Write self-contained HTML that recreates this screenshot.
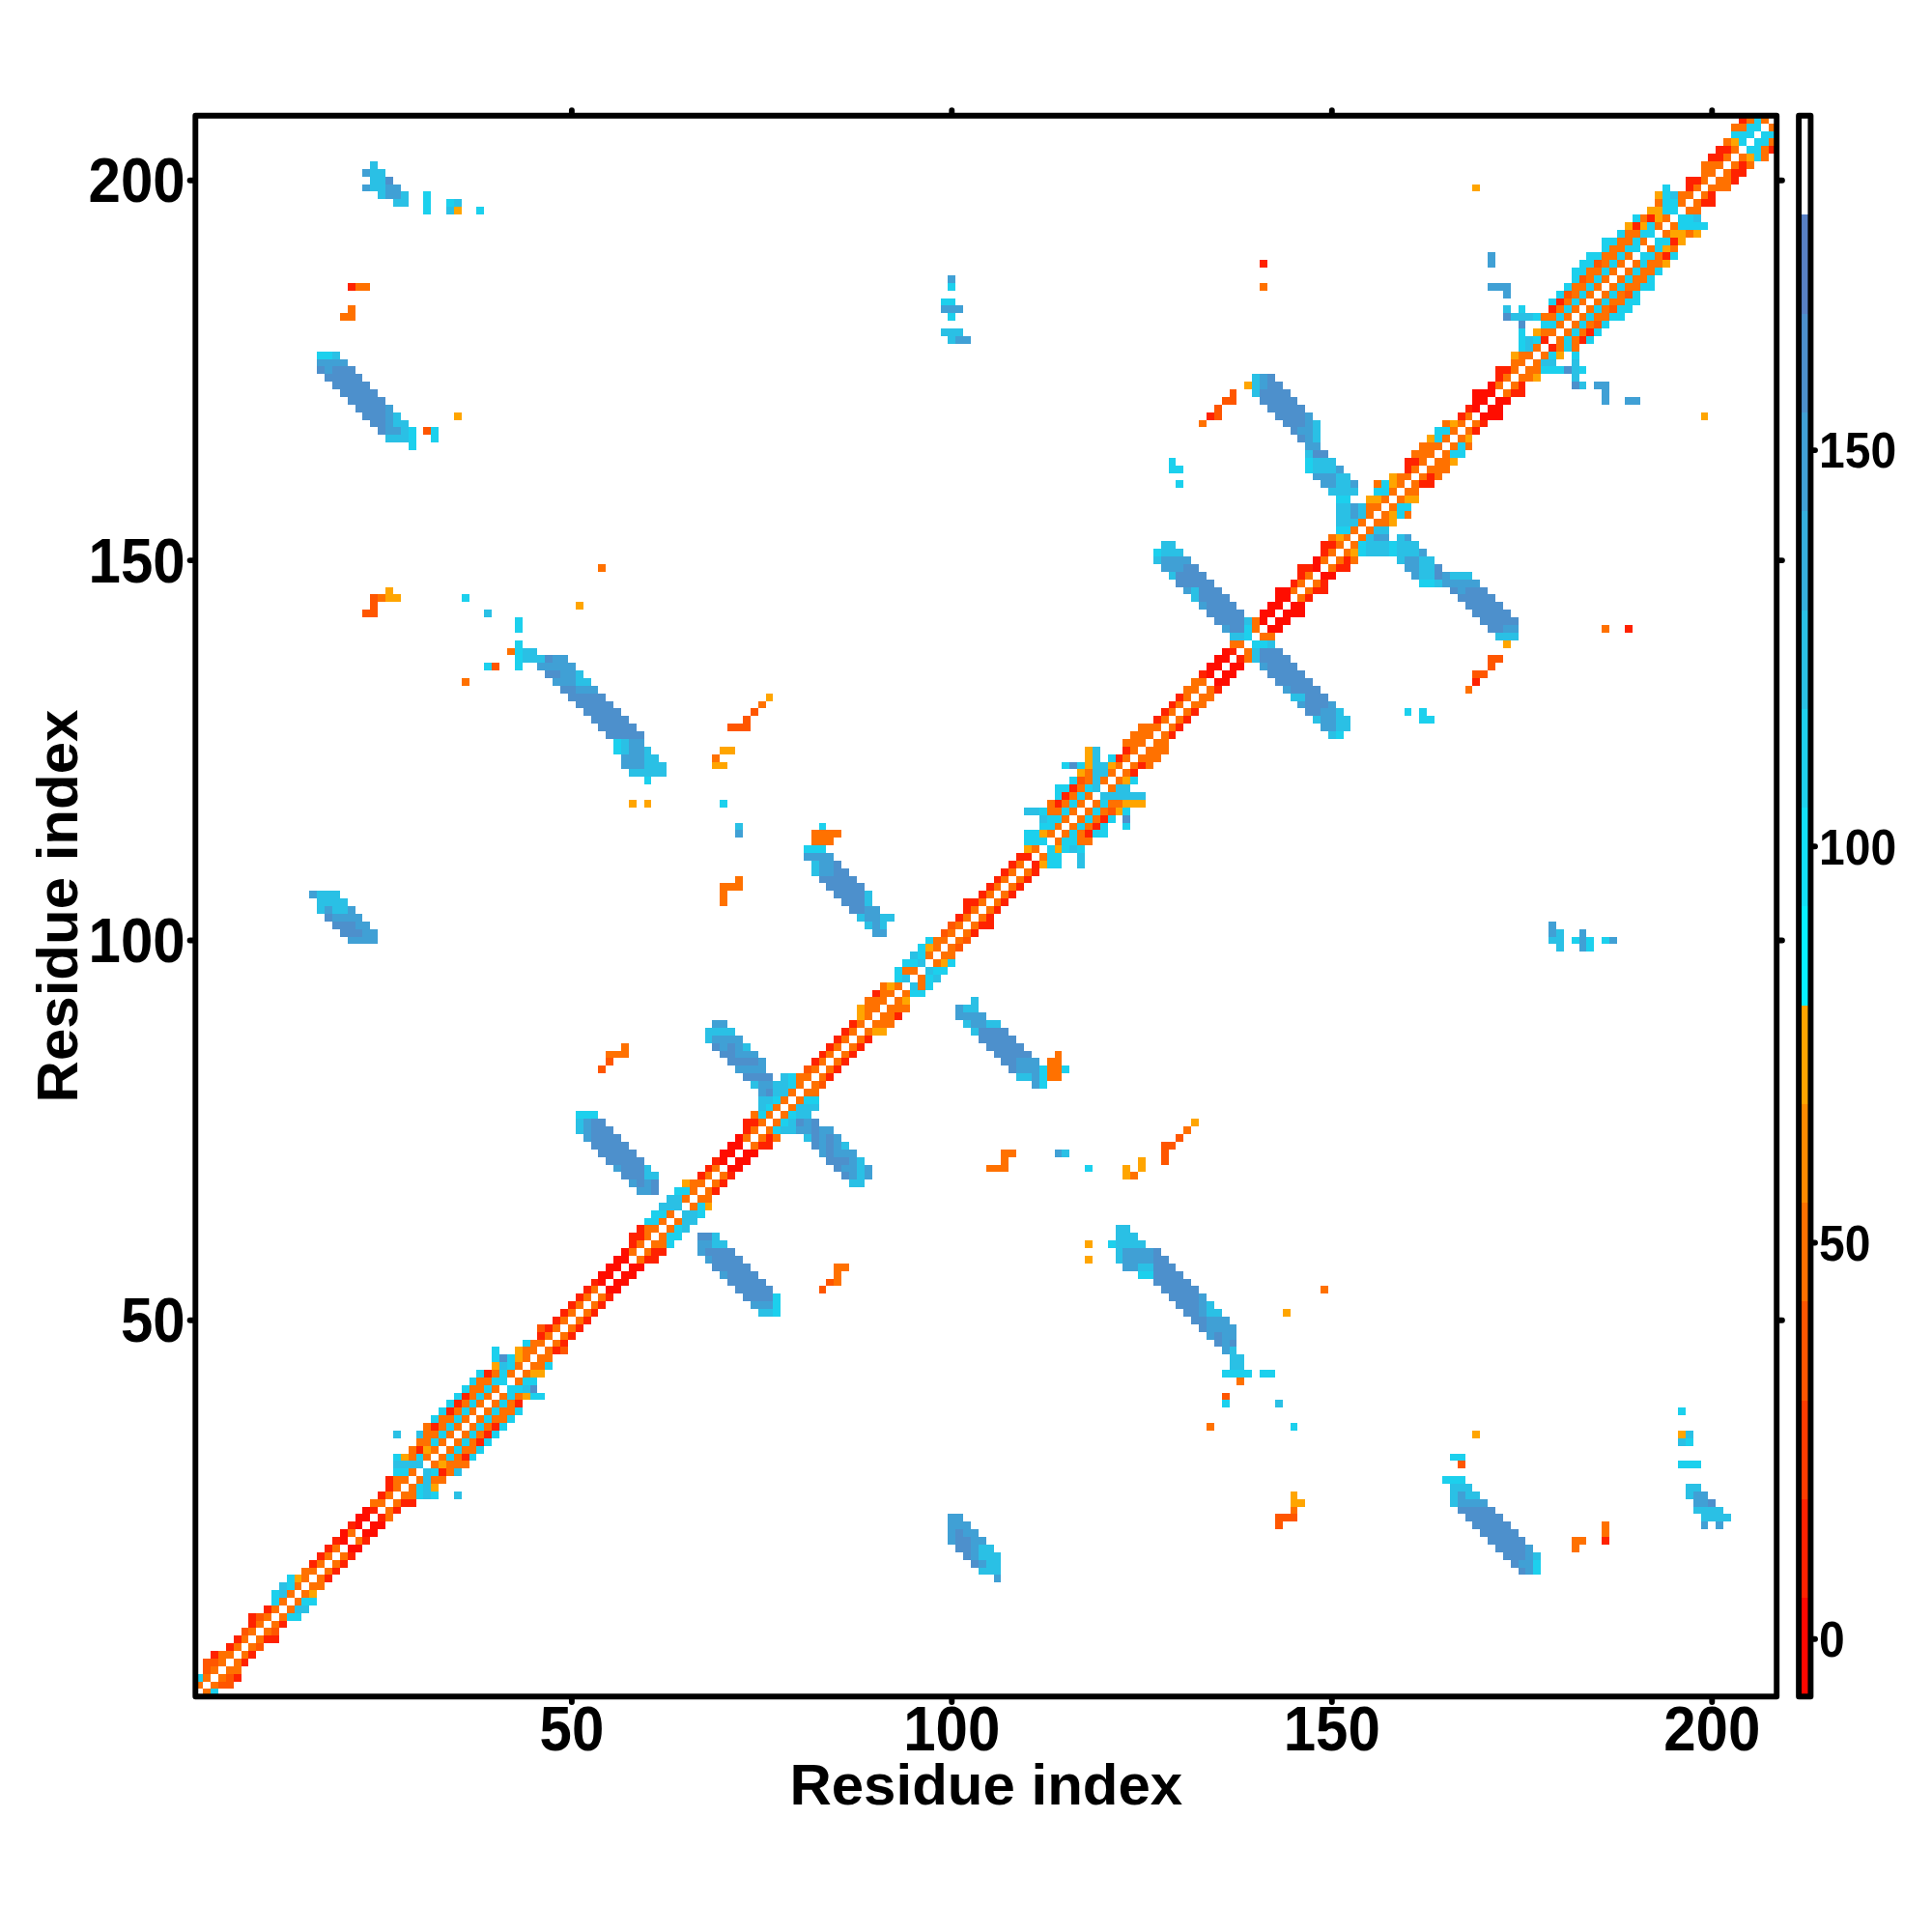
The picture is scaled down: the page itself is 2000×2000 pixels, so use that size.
<!DOCTYPE html>
<html lang="en">
<head>
<meta charset="utf-8">
<title>Residue index contact map</title>
<style>
html,body{margin:0;padding:0;background:#fff}
body{width:2000px;height:2000px;overflow:hidden}
svg{display:block}
text{font-family:"Liberation Sans", sans-serif;font-weight:bold;fill:#000}
.ax{font-size:60px}
.key{font-size:48px}
.ln{stroke:#000;stroke-width:5.9;stroke-linecap:round;stroke-linejoin:round;fill:none}
</style>
</head>
<body>
<svg width="2000" height="2000" viewBox="0 0 2000 2000">
<rect x="0" y="0" width="2000" height="2000" fill="#fff"/>
<defs><filter id="soft" x="0" y="0" width="2000" height="2000" filterUnits="userSpaceOnUse"><feGaussianBlur stdDeviation="0.45"/></filter></defs>
<g filter="url(#soft)">
<g transform="translate(202.30,1756.30) scale(7.86971,-7.86779)" shape-rendering="crispEdges">
<path fill="#FF0800" d="M20 19h2v1h-2zM19 20h1v1h-1zM19 21h1v1h-1zM22 21h2v1h-2zM21 22h1v1h-1zM23 22h2v1h-2zM21 23h2v1h-2zM22 24h1v1h-1zM54 53h2v1h-2zM53 54h1v1h-1zM55 54h2v1h-2zM53 55h2v1h-2zM56 55h2v1h-2zM54 56h2v1h-2zM57 56h2v1h-2zM55 57h2v1h-2zM56 58h1v1h-1zM70 69h2v1h-2zM69 70h1v1h-1zM71 70h2v1h-2zM69 71h2v1h-2zM72 71h2v1h-2zM70 72h2v1h-2zM71 73h1v1h-1zM134 133h2v1h-2zM133 134h1v1h-1zM135 134h2v1h-2zM133 135h2v1h-2zM136 135h2v1h-2zM134 136h2v1h-2zM135 137h1v1h-1zM141 140h2v1h-2zM140 141h1v1h-1zM142 141h2v1h-2zM140 142h2v1h-2zM143 142h3v1h-3zM141 143h2v1h-2zM144 143h2v1h-2zM142 144h2v1h-2zM142 145h2v1h-2zM148 147h2v1h-2zM147 148h1v1h-1zM147 149h1v1h-1zM169 168h3v1h-3zM168 169h1v1h-1zM170 169h2v1h-2zM168 170h2v1h-2zM171 170h2v1h-2zM168 171h3v1h-3zM170 172h1v1h-1z"/>
<path fill="#FF2200" d="M5 2h1v1h-1zM6 4h1v1h-1zM2 5h1v1h-1zM7 5h1v1h-1zM4 6h1v1h-1zM5 7h1v1h-1zM9 7h2v1h-2zM7 9h1v1h-1zM11 9h1v1h-1zM7 10h1v1h-1zM9 11h1v1h-1zM17 15h1v1h-1zM18 16h1v1h-1zM15 17h1v1h-1zM19 17h1v1h-1zM16 18h1v1h-1zM20 18h1v1h-1zM17 19h1v1h-1zM18 20h1v1h-1zM22 20h1v1h-1zM185 20h1v1h-1zM20 22h1v1h-1zM24 23h1v1h-1zM23 24h1v1h-1zM26 24h1v1h-1zM27 25h2v1h-2zM24 26h1v1h-1zM25 27h1v1h-1zM25 28h1v1h-1zM32 29h1v1h-1zM35 31h1v1h-1zM29 32h1v1h-1zM37 33h1v1h-1zM38 34h1v1h-1zM31 35h1v1h-1zM39 35h1v1h-1zM33 37h1v1h-1zM34 38h1v1h-1zM42 38h1v1h-1zM35 39h1v1h-1zM38 42h1v1h-1zM47 45h1v1h-1zM48 46h1v1h-1zM45 47h1v1h-1zM49 47h1v1h-1zM46 48h1v1h-1zM50 48h1v1h-1zM47 49h1v1h-1zM51 49h1v1h-1zM48 50h1v1h-1zM52 50h1v1h-1zM49 51h1v1h-1zM53 51h1v1h-1zM50 52h1v1h-1zM54 52h1v1h-1zM51 53h1v1h-1zM52 54h1v1h-1zM59 57h2v1h-2zM60 58h2v1h-2zM57 59h1v1h-1zM57 60h2v1h-2zM58 61h1v1h-1zM68 66h1v1h-1zM69 67h1v1h-1zM66 68h1v1h-1zM70 68h1v1h-1zM67 69h1v1h-1zM68 70h1v1h-1zM74 72h2v1h-2zM75 73h1v1h-1zM72 74h1v1h-1zM72 75h2v1h-2zM83 81h1v1h-1zM84 82h1v1h-1zM81 83h1v1h-1zM85 83h1v1h-1zM82 84h1v1h-1zM86 84h1v1h-1zM83 85h1v1h-1zM87 85h1v1h-1zM84 86h1v1h-1zM88 86h1v1h-1zM85 87h1v1h-1zM86 88h1v1h-1zM92 89h1v1h-1zM89 92h1v1h-1zM102 100h1v1h-1zM103 101h2v1h-2zM100 102h1v1h-1zM104 102h1v1h-1zM101 103h1v1h-1zM105 103h1v1h-1zM101 104h2v1h-2zM106 104h1v1h-1zM103 105h1v1h-1zM107 105h1v1h-1zM104 106h1v1h-1zM108 106h1v1h-1zM105 107h1v1h-1zM109 107h1v1h-1zM106 108h1v1h-1zM110 108h1v1h-1zM107 109h1v1h-1zM110 109h1v1h-1zM108 110h2v1h-2zM117 113h1v1h-1zM118 114h1v1h-1zM119 115h1v1h-1zM113 117h1v1h-1zM114 118h1v1h-1zM115 119h1v1h-1zM123 121h1v1h-1zM124 122h1v1h-1zM121 123h1v1h-1zM122 124h1v1h-1zM128 126h1v1h-1zM129 127h1v1h-1zM126 128h1v1h-1zM130 128h1v1h-1zM127 129h1v1h-1zM131 129h1v1h-1zM128 130h1v1h-1zM129 131h1v1h-1zM134 132h1v1h-1zM168 133h1v1h-1zM132 134h1v1h-1zM137 136h1v1h-1zM136 137h1v1h-1zM188 140h1v1h-1zM146 144h1v1h-1zM147 145h2v1h-2zM144 146h1v1h-1zM148 146h1v1h-1zM145 147h1v1h-1zM145 148h2v1h-2zM150 148h2v1h-2zM151 149h1v1h-1zM148 150h1v1h-1zM148 151h2v1h-2zM161 159h2v1h-2zM162 160h1v1h-1zM159 161h1v1h-1zM159 162h2v1h-2zM168 166h1v1h-1zM169 167h1v1h-1zM133 168h1v1h-1zM166 168h1v1h-1zM167 169h1v1h-1zM173 171h2v1h-2zM174 172h1v1h-1zM171 173h1v1h-1zM171 174h2v1h-2zM178 177h1v1h-1zM177 178h1v1h-1zM182 178h1v1h-1zM183 179h1v1h-1zM178 182h1v1h-1zM179 183h1v1h-1zM20 185h1v1h-1zM140 188h1v1h-1zM193 189h1v1h-1zM194 191h1v1h-1zM189 193h1v1h-1zM191 194h1v1h-1zM198 196h2v1h-2zM199 197h1v1h-1zM196 198h1v1h-1zM196 199h2v1h-2zM202 199h1v1h-1zM202 200h2v1h-2zM203 201h1v1h-1zM199 202h2v1h-2zM200 203h2v1h-2zM207 203h1v1h-1zM203 207h1v1h-1z"/>
<path fill="#FF5600" d="M3 1h2v1h-2zM4 2h1v1h-1zM1 3h1v1h-1zM1 4h2v1h-2zM8 6h1v1h-1zM6 8h1v1h-1zM10 8h1v1h-1zM8 10h1v1h-1zM142 22h1v1h-1zM142 23h3v1h-3zM166 30h1v1h-1zM135 39h1v1h-1zM48 45h1v1h-1zM45 48h1v1h-1zM82 53h1v1h-1zM83 54h1v1h-1zM127 70h1v1h-1zM127 71h1v1h-1zM127 72h2v1h-2zM129 73h1v1h-1zM82 80h1v1h-1zM53 82h1v1h-1zM80 82h1v1h-1zM54 83h1v1h-1zM100 98h1v1h-1zM101 99h1v1h-1zM98 100h1v1h-1zM99 101h1v1h-1zM120 116h1v1h-1zM116 120h1v1h-1zM70 127h3v1h-3zM72 128h1v1h-1zM73 129h1v1h-1zM168 134h2v1h-2zM39 135h1v1h-1zM170 135h1v1h-1zM170 136h2v1h-2zM22 142h2v1h-2zM23 143h1v1h-1zM23 144h1v1h-1zM30 166h1v1h-1zM134 168h1v1h-1zM134 169h1v1h-1zM135 170h2v1h-2zM136 171h1v1h-1zM184 180h1v1h-1zM186 182h1v1h-1zM180 184h1v1h-1zM188 184h1v1h-1zM182 186h1v1h-1zM184 188h1v1h-1z"/>
<path fill="#FF7100" d="M1 0h1v1h-1zM0 1h1v1h-1zM2 1h1v1h-1zM1 2h1v1h-1zM3 2h1v1h-1zM2 3h1v1h-1zM4 3h2v1h-2zM3 4h1v1h-1zM5 4h1v1h-1zM3 5h2v1h-2zM6 5h1v1h-1zM5 6h1v1h-1zM7 6h1v1h-1zM6 7h1v1h-1zM8 7h1v1h-1zM7 8h1v1h-1zM9 8h1v1h-1zM8 9h1v1h-1zM10 9h1v1h-1zM9 10h1v1h-1zM11 10h1v1h-1zM10 11h1v1h-1zM12 11h1v1h-1zM11 12h1v1h-1zM13 12h1v1h-1zM12 13h1v1h-1zM14 13h1v1h-1zM13 14h1v1h-1zM15 14h2v1h-2zM14 15h1v1h-1zM16 15h1v1h-1zM14 16h2v1h-2zM17 16h1v1h-1zM16 17h1v1h-1zM18 17h1v1h-1zM17 18h1v1h-1zM19 18h1v1h-1zM18 19h1v1h-1zM181 19h1v1h-1zM21 20h1v1h-1zM181 20h2v1h-2zM20 21h1v1h-1zM185 21h1v1h-1zM185 22h1v1h-1zM25 23h1v1h-1zM25 24h1v1h-1zM144 24h1v1h-1zM23 25h2v1h-2zM26 25h1v1h-1zM25 26h1v1h-1zM27 26h2v1h-2zM26 27h1v1h-1zM28 27h1v1h-1zM26 28h2v1h-2zM29 28h1v1h-1zM31 28h2v1h-2zM28 29h1v1h-1zM33 29h1v1h-1zM31 30h1v1h-1zM33 30h3v1h-3zM28 31h1v1h-1zM30 31h1v1h-1zM32 31h1v1h-1zM34 31h1v1h-1zM28 32h1v1h-1zM31 32h1v1h-1zM33 32h1v1h-1zM35 32h2v1h-2zM29 33h2v1h-2zM32 33h1v1h-1zM34 33h1v1h-1zM36 33h1v1h-1zM30 34h2v1h-2zM33 34h1v1h-1zM35 34h1v1h-1zM37 34h1v1h-1zM30 35h1v1h-1zM32 35h1v1h-1zM34 35h1v1h-1zM36 35h1v1h-1zM38 35h1v1h-1zM133 35h1v1h-1zM32 36h2v1h-2zM35 36h1v1h-1zM37 36h1v1h-1zM39 36h2v1h-2zM34 37h1v1h-1zM36 37h1v1h-1zM38 37h1v1h-1zM40 37h2v1h-2zM35 38h1v1h-1zM37 38h1v1h-1zM39 38h1v1h-1zM41 38h1v1h-1zM36 39h1v1h-1zM38 39h1v1h-1zM40 39h1v1h-1zM42 39h1v1h-1zM36 40h2v1h-2zM39 40h1v1h-1zM37 41h2v1h-2zM42 41h1v1h-1zM137 41h1v1h-1zM39 42h1v1h-1zM41 42h1v1h-1zM43 42h1v1h-1zM42 43h1v1h-1zM44 43h2v1h-2zM43 44h1v1h-1zM45 44h2v1h-2zM43 45h2v1h-2zM46 45h1v1h-1zM44 46h2v1h-2zM47 46h1v1h-1zM46 47h1v1h-1zM48 47h1v1h-1zM47 48h1v1h-1zM49 48h1v1h-1zM48 49h1v1h-1zM50 49h1v1h-1zM49 50h1v1h-1zM51 50h1v1h-1zM50 51h1v1h-1zM52 51h1v1h-1zM51 52h1v1h-1zM53 52h1v1h-1zM52 53h1v1h-1zM148 53h1v1h-1zM84 54h1v1h-1zM84 55h1v1h-1zM84 56h2v1h-2zM58 57h1v1h-1zM57 58h1v1h-1zM59 58h1v1h-1zM58 59h1v1h-1zM60 59h2v1h-2zM59 60h1v1h-1zM61 60h1v1h-1zM59 61h2v1h-2zM62 61h1v1h-1zM61 62h1v1h-1zM63 62h1v1h-1zM62 63h1v1h-1zM65 64h1v1h-1zM64 65h1v1h-1zM66 65h2v1h-2zM65 66h1v1h-1zM67 66h1v1h-1zM65 67h2v1h-2zM68 67h1v1h-1zM67 68h1v1h-1zM69 68h1v1h-1zM123 68h1v1h-1zM68 69h1v1h-1zM104 69h3v1h-3zM106 70h1v1h-1zM106 71h2v1h-2zM73 72h1v1h-1zM72 73h1v1h-1zM74 73h1v1h-1zM76 73h1v1h-1zM73 74h1v1h-1zM75 74h1v1h-1zM130 74h1v1h-1zM74 75h1v1h-1zM76 75h1v1h-1zM73 76h1v1h-1zM75 76h1v1h-1zM77 76h1v1h-1zM76 77h1v1h-1zM78 77h1v1h-1zM77 78h1v1h-1zM79 78h1v1h-1zM78 79h1v1h-1zM80 79h2v1h-2zM79 80h1v1h-1zM81 80h1v1h-1zM79 81h2v1h-2zM82 81h1v1h-1zM112 81h2v1h-2zM81 82h1v1h-1zM83 82h1v1h-1zM112 82h2v1h-2zM82 83h1v1h-1zM84 83h1v1h-1zM112 83h2v1h-2zM54 84h3v1h-3zM83 84h1v1h-1zM85 84h1v1h-1zM113 84h1v1h-1zM56 85h1v1h-1zM84 85h1v1h-1zM86 85h1v1h-1zM85 86h1v1h-1zM87 86h1v1h-1zM86 87h1v1h-1zM88 87h1v1h-1zM87 88h1v1h-1zM89 88h3v1h-3zM88 89h1v1h-1zM90 89h2v1h-2zM88 90h2v1h-2zM91 90h3v1h-3zM88 91h3v1h-3zM92 91h1v1h-1zM90 92h2v1h-2zM93 92h1v1h-1zM90 93h1v1h-1zM92 93h1v1h-1zM95 93h1v1h-1zM95 94h1v1h-1zM93 95h2v1h-2zM97 96h1v1h-1zM96 97h1v1h-1zM98 97h2v1h-2zM97 98h1v1h-1zM99 98h1v1h-1zM97 99h2v1h-2zM100 99h1v1h-1zM99 100h1v1h-1zM101 100h1v1h-1zM100 101h1v1h-1zM102 101h1v1h-1zM101 102h1v1h-1zM103 102h1v1h-1zM102 103h1v1h-1zM104 103h1v1h-1zM69 104h1v1h-1zM103 104h1v1h-1zM105 104h1v1h-1zM69 105h1v1h-1zM104 105h1v1h-1zM106 105h1v1h-1zM69 106h3v1h-3zM105 106h1v1h-1zM107 106h1v1h-1zM71 107h1v1h-1zM106 107h1v1h-1zM108 107h1v1h-1zM107 108h1v1h-1zM109 108h1v1h-1zM108 109h1v1h-1zM111 110h1v1h-1zM110 111h1v1h-1zM81 112h3v1h-3zM113 112h1v1h-1zM116 112h2v1h-2zM81 113h4v1h-4zM112 113h1v1h-1zM114 113h1v1h-1zM116 113h1v1h-1zM113 114h1v1h-1zM115 114h1v1h-1zM117 114h1v1h-1zM114 115h1v1h-1zM116 115h1v1h-1zM118 115h1v1h-1zM112 116h2v1h-2zM115 116h1v1h-1zM117 116h1v1h-1zM119 116h1v1h-1zM112 117h1v1h-1zM114 117h1v1h-1zM116 117h1v1h-1zM118 117h1v1h-1zM120 117h2v1h-2zM115 118h1v1h-1zM117 118h1v1h-1zM116 119h1v1h-1zM120 119h1v1h-1zM117 120h1v1h-1zM119 120h1v1h-1zM121 120h1v1h-1zM117 121h1v1h-1zM120 121h1v1h-1zM122 121h1v1h-1zM121 122h1v1h-1zM123 122h1v1h-1zM125 122h1v1h-1zM68 123h1v1h-1zM122 123h1v1h-1zM124 123h3v1h-3zM123 124h1v1h-1zM125 124h3v1h-3zM122 125h3v1h-3zM126 125h2v1h-2zM123 126h3v1h-3zM127 126h1v1h-1zM124 127h3v1h-3zM128 127h1v1h-1zM127 128h1v1h-1zM129 128h1v1h-1zM128 129h1v1h-1zM130 129h1v1h-1zM74 130h1v1h-1zM129 130h1v1h-1zM131 130h2v1h-2zM130 131h1v1h-1zM132 131h2v1h-2zM130 132h2v1h-2zM133 132h1v1h-1zM167 132h1v1h-1zM35 133h1v1h-1zM131 133h2v1h-2zM138 136h1v1h-1zM41 137h1v1h-1zM138 137h1v1h-1zM136 138h2v1h-2zM140 139h2v1h-2zM139 140h1v1h-1zM185 140h1v1h-1zM139 141h1v1h-1zM24 144h1v1h-1zM145 144h1v1h-1zM144 145h1v1h-1zM146 145h1v1h-1zM145 146h1v1h-1zM147 146h1v1h-1zM146 147h1v1h-1zM53 148h1v1h-1zM149 148h1v1h-1zM148 149h1v1h-1zM150 149h1v1h-1zM152 149h1v1h-1zM149 150h1v1h-1zM151 150h1v1h-1zM150 151h1v1h-1zM152 151h1v1h-1zM149 152h1v1h-1zM151 152h1v1h-1zM153 152h1v1h-1zM152 153h1v1h-1zM154 153h1v1h-1zM153 154h1v1h-1zM155 154h2v1h-2zM154 155h1v1h-1zM156 155h1v1h-1zM159 155h1v1h-1zM154 156h2v1h-2zM157 156h1v1h-1zM156 157h1v1h-1zM158 157h1v1h-1zM157 158h1v1h-1zM159 158h2v1h-2zM155 159h1v1h-1zM158 159h1v1h-1zM160 159h1v1h-1zM158 160h2v1h-2zM161 160h1v1h-1zM163 160h1v1h-1zM160 161h1v1h-1zM162 161h3v1h-3zM161 162h1v1h-1zM163 162h2v1h-2zM160 163h3v1h-3zM164 163h1v1h-1zM161 164h3v1h-3zM165 164h1v1h-1zM167 164h1v1h-1zM164 165h1v1h-1zM166 165h1v1h-1zM165 166h1v1h-1zM167 166h1v1h-1zM132 167h1v1h-1zM164 167h1v1h-1zM166 167h1v1h-1zM168 167h1v1h-1zM167 168h1v1h-1zM172 171h1v1h-1zM171 172h1v1h-1zM173 172h1v1h-1zM172 173h1v1h-1zM174 173h2v1h-2zM173 174h1v1h-1zM175 174h2v1h-2zM173 175h2v1h-2zM176 175h1v1h-1zM174 176h2v1h-2zM177 176h1v1h-1zM176 177h1v1h-1zM179 177h1v1h-1zM181 177h1v1h-1zM179 178h1v1h-1zM181 178h1v1h-1zM177 179h2v1h-2zM180 179h1v1h-1zM182 179h1v1h-1zM179 180h1v1h-1zM181 180h1v1h-1zM183 180h1v1h-1zM19 181h2v1h-2zM177 181h2v1h-2zM180 181h1v1h-1zM182 181h1v1h-1zM184 181h2v1h-2zM20 182h1v1h-1zM179 182h1v1h-1zM181 182h1v1h-1zM183 182h1v1h-1zM185 182h1v1h-1zM180 183h1v1h-1zM182 183h1v1h-1zM184 183h1v1h-1zM186 183h2v1h-2zM181 184h1v1h-1zM183 184h1v1h-1zM185 184h1v1h-1zM187 184h1v1h-1zM21 185h2v1h-2zM140 185h1v1h-1zM181 185h2v1h-2zM184 185h1v1h-1zM186 185h1v1h-1zM188 185h2v1h-2zM183 186h1v1h-1zM185 186h1v1h-1zM187 186h1v1h-1zM189 186h2v1h-2zM183 187h2v1h-2zM186 187h1v1h-1zM188 187h1v1h-1zM190 187h2v1h-2zM185 188h1v1h-1zM187 188h1v1h-1zM189 188h1v1h-1zM191 188h2v1h-2zM185 189h2v1h-2zM188 189h1v1h-1zM192 189h1v1h-1zM186 190h2v1h-2zM191 190h1v1h-1zM194 190h1v1h-1zM187 191h2v1h-2zM190 191h1v1h-1zM188 192h2v1h-2zM193 192h1v1h-1zM196 192h1v1h-1zM192 193h1v1h-1zM194 193h1v1h-1zM190 194h1v1h-1zM193 194h1v1h-1zM196 195h2v1h-2zM192 196h1v1h-1zM195 196h1v1h-1zM197 196h1v1h-1zM195 197h2v1h-2zM198 197h1v1h-1zM197 198h1v1h-1zM199 198h3v1h-3zM198 199h1v1h-1zM200 199h2v1h-2zM198 200h2v1h-2zM201 200h1v1h-1zM198 201h3v1h-3zM202 201h1v1h-1zM204 201h1v1h-1zM201 202h1v1h-1zM203 202h1v1h-1zM206 202h1v1h-1zM202 203h1v1h-1zM206 203h1v1h-1zM201 204h1v1h-1zM207 204h1v1h-1zM202 206h2v1h-2zM207 206h1v1h-1zM204 207h1v1h-1zM206 207h1v1h-1z"/>
<path fill="#FFA500" d="M15 13h1v1h-1zM13 15h1v1h-1zM144 25h2v1h-2zM144 26h1v1h-1zM31 27h1v1h-1zM32 30h1v1h-1zM27 31h1v1h-1zM30 32h1v1h-1zM168 34h1v1h-1zM195 34h1v1h-1zM43 39h1v1h-1zM44 42h2v1h-2zM39 43h1v1h-1zM42 44h1v1h-1zM42 45h1v1h-1zM143 50h1v1h-1zM117 57h1v1h-1zM117 59h1v1h-1zM67 64h1v1h-1zM64 67h1v1h-1zM122 68h1v1h-1zM122 69h1v1h-1zM124 69h1v1h-1zM124 70h1v1h-1zM131 75h1v1h-1zM89 87h2v1h-2zM87 89h1v1h-1zM87 90h1v1h-1zM93 91h1v1h-1zM91 93h1v1h-1zM98 96h1v1h-1zM96 98h1v1h-1zM111 109h1v1h-1zM109 111h1v1h-1zM113 111h1v1h-1zM111 113h1v1h-1zM121 116h1v1h-1zM57 117h1v1h-1zM59 117h1v1h-1zM122 117h3v1h-3zM122 120h1v1h-1zM116 121h1v1h-1zM68 122h2v1h-2zM117 122h1v1h-1zM120 122h1v1h-1zM117 123h1v1h-1zM69 124h2v1h-2zM117 124h1v1h-1zM75 131h1v1h-1zM172 138h1v1h-1zM50 143h1v1h-1zM25 144h2v1h-2zM25 145h1v1h-1zM152 150h1v1h-1zM150 152h1v1h-1zM157 154h1v1h-1zM157 155h1v1h-1zM154 157h2v1h-2zM159 157h2v1h-2zM157 159h1v1h-1zM157 160h1v1h-1zM165 162h1v1h-1zM162 165h1v1h-1zM167 165h1v1h-1zM165 167h1v1h-1zM34 168h1v1h-1zM198 168h1v1h-1zM138 172h1v1h-1zM176 173h1v1h-1zM173 176h1v1h-1zM179 176h1v1h-1zM176 179h1v1h-1zM193 188h1v1h-1zM193 190h1v1h-1zM195 191h1v1h-1zM194 192h2v1h-2zM197 192h1v1h-1zM188 193h1v1h-1zM190 193h1v1h-1zM192 194h1v1h-1zM34 195h1v1h-1zM191 195h2v1h-2zM192 197h1v1h-1zM168 198h1v1h-1zM204 202h1v1h-1zM202 204h1v1h-1z"/>
<path fill="#1FD0ED" d="M2 0h1v1h-1zM0 2h1v1h-1zM12 10h2v1h-2zM10 12h1v1h-1zM14 12h2v1h-2zM10 13h1v1h-1zM12 14h1v1h-1zM12 15h1v1h-1zM176 16h1v1h-1zM176 17h1v1h-1zM29 26h1v1h-1zM31 26h1v1h-1zM29 27h1v1h-1zM164 28h3v1h-3zM26 29h2v1h-2zM31 29h1v1h-1zM195 30h3v1h-3zM26 31h1v1h-1zM29 31h1v1h-1zM33 31h1v1h-1zM36 31h1v1h-1zM165 31h2v1h-2zM34 32h1v1h-1zM37 32h1v1h-1zM31 33h1v1h-1zM35 33h1v1h-1zM38 33h1v1h-1zM196 33h1v1h-1zM32 34h1v1h-1zM36 34h1v1h-1zM39 34h1v1h-1zM33 35h1v1h-1zM37 35h1v1h-1zM40 35h1v1h-1zM144 35h1v1h-1zM31 36h1v1h-1zM34 36h1v1h-1zM38 36h1v1h-1zM41 36h1v1h-1zM32 37h1v1h-1zM35 37h1v1h-1zM39 37h1v1h-1zM42 37h1v1h-1zM195 37h1v1h-1zM33 38h1v1h-1zM36 38h1v1h-1zM40 38h1v1h-1zM135 38h1v1h-1zM34 39h1v1h-1zM37 39h1v1h-1zM41 39h1v1h-1zM44 39h2v1h-2zM35 40h1v1h-1zM38 40h1v1h-1zM41 40h2v1h-2zM36 41h1v1h-1zM39 41h2v1h-2zM43 41h2v1h-2zM37 42h1v1h-1zM40 42h1v1h-1zM135 42h4v1h-4zM140 42h2v1h-2zM41 43h1v1h-1zM46 43h1v1h-1zM39 44h1v1h-1zM41 44h1v1h-1zM39 45h1v1h-1zM43 46h1v1h-1zM76 50h1v1h-1zM76 51h1v1h-1zM76 52h1v1h-1zM124 55h2v1h-2zM62 59h1v1h-1zM120 59h1v1h-1zM62 60h2v1h-2zM63 61h1v1h-1zM59 62h2v1h-2zM60 63h2v1h-2zM66 63h1v1h-1zM66 64h1v1h-1zM63 66h2v1h-2zM117 69h1v1h-1zM76 74h1v1h-1zM77 75h1v1h-1zM50 76h3v1h-3zM74 76h1v1h-1zM78 76h1v1h-1zM75 77h1v1h-1zM76 78h1v1h-1zM80 78h2v1h-2zM78 80h1v1h-1zM111 80h1v1h-1zM78 81h1v1h-1zM111 81h1v1h-1zM111 82h1v1h-1zM114 82h1v1h-1zM94 92h2v1h-2zM96 93h1v1h-1zM92 94h1v1h-1zM96 94h1v1h-1zM92 95h1v1h-1zM97 95h2v1h-2zM93 96h2v1h-2zM99 96h1v1h-1zM95 97h1v1h-1zM95 98h1v1h-1zM183 98h1v1h-1zM96 99h1v1h-1zM181 99h1v1h-1zM183 99h1v1h-1zM185 99h1v1h-1zM112 109h2v1h-2zM112 110h2v1h-2zM80 111h3v1h-3zM112 111h1v1h-1zM114 111h1v1h-1zM116 111h1v1h-1zM109 112h3v1h-3zM114 112h2v1h-2zM109 113h2v1h-2zM115 113h1v1h-1zM118 113h2v1h-2zM82 114h1v1h-1zM111 114h2v1h-2zM116 114h1v1h-1zM119 114h1v1h-1zM122 114h1v1h-1zM112 115h2v1h-2zM117 115h1v1h-1zM120 115h1v1h-1zM111 116h1v1h-1zM114 116h1v1h-1zM118 116h1v1h-1zM122 116h1v1h-1zM69 117h1v1h-1zM115 117h1v1h-1zM119 117h1v1h-1zM113 118h1v1h-1zM116 118h1v1h-1zM113 119h2v1h-2zM117 119h1v1h-1zM59 120h1v1h-1zM115 120h1v1h-1zM123 120h1v1h-1zM114 122h1v1h-1zM116 122h1v1h-1zM120 123h1v1h-1zM55 124h1v1h-1zM55 125h1v1h-1zM150 126h1v1h-1zM161 128h2v1h-2zM159 129h1v1h-1zM161 129h1v1h-1zM38 135h1v1h-1zM42 135h1v1h-1zM42 136h1v1h-1zM42 137h1v1h-1zM42 138h1v1h-1zM139 138h2v1h-2zM138 139h1v1h-1zM42 140h1v1h-1zM138 140h1v1h-1zM42 141h1v1h-1zM35 144h1v1h-1zM161 146h2v1h-2zM126 150h1v1h-1zM153 150h1v1h-1zM157 150h1v1h-1zM153 151h1v1h-1zM157 151h1v1h-1zM150 153h2v1h-2zM158 155h1v1h-1zM158 156h2v1h-2zM150 157h2v1h-2zM155 158h2v1h-2zM129 159h1v1h-1zM156 159h1v1h-1zM128 161h2v1h-2zM146 161h1v1h-1zM128 162h1v1h-1zM146 162h1v1h-1zM165 163h2v1h-2zM28 164h1v1h-1zM166 164h1v1h-1zM28 165h1v1h-1zM31 165h1v1h-1zM163 165h1v1h-1zM28 166h1v1h-1zM31 166h1v1h-1zM163 166h2v1h-2zM177 174h3v1h-3zM182 174h1v1h-1zM16 176h2v1h-2zM178 176h1v1h-1zM181 176h1v1h-1zM174 177h1v1h-1zM180 177h1v1h-1zM174 178h1v1h-1zM176 178h1v1h-1zM180 178h1v1h-1zM183 178h1v1h-1zM174 179h1v1h-1zM181 179h1v1h-1zM184 179h1v1h-1zM177 180h2v1h-2zM182 180h1v1h-1zM185 180h1v1h-1zM99 181h1v1h-1zM176 181h1v1h-1zM179 181h1v1h-1zM183 181h1v1h-1zM186 181h2v1h-2zM174 182h1v1h-1zM180 182h1v1h-1zM184 182h1v1h-1zM187 182h2v1h-2zM98 183h2v1h-2zM178 183h1v1h-1zM181 183h1v1h-1zM185 183h1v1h-1zM188 183h2v1h-2zM179 184h1v1h-1zM182 184h1v1h-1zM186 184h1v1h-1zM189 184h1v1h-1zM99 185h1v1h-1zM180 185h1v1h-1zM183 185h1v1h-1zM187 185h1v1h-1zM190 185h2v1h-2zM181 186h1v1h-1zM184 186h1v1h-1zM188 186h1v1h-1zM191 186h1v1h-1zM181 187h2v1h-2zM185 187h1v1h-1zM189 187h1v1h-1zM192 187h1v1h-1zM182 188h2v1h-2zM186 188h1v1h-1zM190 188h1v1h-1zM183 189h2v1h-2zM187 189h1v1h-1zM190 189h2v1h-2zM194 189h1v1h-1zM185 190h1v1h-1zM188 190h2v1h-2zM192 190h1v1h-1zM185 191h2v1h-2zM189 191h1v1h-1zM192 191h2v1h-2zM187 192h1v1h-1zM190 192h2v1h-2zM191 193h1v1h-1zM195 193h4v1h-4zM189 194h1v1h-1zM195 194h2v1h-2zM30 195h1v1h-1zM37 195h1v1h-1zM193 195h2v1h-2zM30 196h1v1h-1zM33 196h1v1h-1zM193 196h2v1h-2zM30 197h1v1h-1zM193 197h1v1h-1zM193 198h1v1h-1zM205 202h1v1h-1zM204 203h2v1h-2zM203 204h1v1h-1zM205 204h2v1h-2zM202 205h3v1h-3zM206 205h2v1h-2zM204 206h2v1h-2zM205 207h1v1h-1z"/>
<path fill="#2AC0E5" d="M13 11h2v1h-2zM11 13h1v1h-1zM11 14h1v1h-1zM103 16h3v1h-3zM104 17h2v1h-2zM103 18h3v1h-3zM176 18h1v1h-1zM103 19h2v1h-2zM198 23h4v1h-4zM197 24h4v1h-4zM165 25h1v1h-1zM30 26h1v1h-1zM34 26h1v1h-1zM165 26h1v1h-1zM167 26h2v1h-2zM196 26h1v1h-1zM30 27h1v1h-1zM165 27h3v1h-3zM196 27h2v1h-2zM30 28h1v1h-1zM30 29h1v1h-1zM34 29h1v1h-1zM26 30h4v1h-4zM195 33h1v1h-1zM26 34h1v1h-1zM29 34h1v1h-1zM196 34h1v1h-1zM142 38h1v1h-1zM43 40h1v1h-1zM40 43h1v1h-1zM136 43h2v1h-2zM136 44h2v1h-2zM136 45h1v1h-1zM74 50h2v1h-2zM133 50h2v1h-2zM133 51h1v1h-1zM124 56h2v1h-2zM121 57h1v1h-1zM121 58h1v1h-1zM68 59h2v1h-2zM121 59h4v1h-4zM68 60h1v1h-1zM121 60h3v1h-3zM64 61h1v1h-1zM121 61h2v1h-2zM64 62h2v1h-2zM64 63h2v1h-2zM61 64h3v1h-3zM62 65h2v1h-2zM86 67h2v1h-2zM59 68h2v1h-2zM87 68h1v1h-1zM59 69h1v1h-1zM87 69h1v1h-1zM87 70h1v1h-1zM114 71h1v1h-1zM85 72h1v1h-1zM80 73h1v1h-1zM50 74h1v1h-1zM77 74h2v1h-2zM50 75h1v1h-1zM78 75h1v1h-1zM79 76h2v1h-2zM74 77h1v1h-1zM79 77h3v1h-3zM74 78h2v1h-2zM76 79h2v1h-2zM73 80h1v1h-1zM76 80h2v1h-2zM77 81h1v1h-1zM108 81h2v1h-2zM72 85h1v1h-1zM67 86h1v1h-1zM67 87h4v1h-4zM102 87h1v1h-1zM101 88h1v1h-1zM104 88h2v1h-2zM101 90h2v1h-2zM102 91h1v1h-1zM94 93h1v1h-1zM93 94h1v1h-1zM97 94h1v1h-1zM96 95h1v1h-1zM95 96h1v1h-1zM94 97h1v1h-1zM179 98h1v1h-1zM178 99h2v1h-2zM179 100h1v1h-1zM88 101h1v1h-1zM90 101h1v1h-1zM87 102h1v1h-1zM90 102h2v1h-2zM16 103h1v1h-1zM18 103h2v1h-2zM16 104h4v1h-4zM88 104h1v1h-1zM16 105h3v1h-3zM88 105h1v1h-1zM81 108h1v1h-1zM81 109h1v1h-1zM116 109h1v1h-1zM116 110h1v1h-1zM115 111h1v1h-1zM71 114h1v1h-1zM111 115h1v1h-1zM109 116h2v1h-2zM119 118h6v1h-6zM118 119h1v1h-1zM121 119h2v1h-2zM118 120h1v1h-1zM57 121h5v1h-5zM118 121h2v1h-2zM59 122h3v1h-3zM118 122h2v1h-2zM59 123h2v1h-2zM118 123h1v1h-1zM56 124h1v1h-1zM59 124h1v1h-1zM118 124h1v1h-1zM56 125h1v1h-1zM149 126h1v1h-1zM150 127h2v1h-2zM147 128h1v1h-1zM150 128h2v1h-2zM150 129h1v1h-1zM144 131h2v1h-2zM50 133h2v1h-2zM50 134h1v1h-1zM43 136h3v1h-3zM139 136h1v1h-1zM43 137h2v1h-2zM139 137h1v1h-1zM141 138h1v1h-1zM136 139h2v1h-2zM171 139h3v1h-3zM138 141h1v1h-1zM38 142h1v1h-1zM131 144h1v1h-1zM131 145h1v1h-1zM163 146h1v1h-1zM128 147h1v1h-1zM161 147h2v1h-2zM165 147h3v1h-3zM161 148h2v1h-2zM126 149h1v1h-1zM158 149h1v1h-1zM161 149h2v1h-2zM127 150h3v1h-3zM154 150h3v1h-3zM158 150h3v1h-3zM127 151h2v1h-2zM154 151h3v1h-3zM158 151h3v1h-3zM154 152h1v1h-1zM158 152h1v1h-1zM155 153h2v1h-2zM150 154h3v1h-3zM150 155h2v1h-2zM153 155h1v1h-1zM150 156h2v1h-2zM153 156h1v1h-1zM149 158h4v1h-4zM150 159h2v1h-2zM150 160h2v1h-2zM147 161h3v1h-3zM147 162h3v1h-3zM146 163h1v1h-1zM25 165h3v1h-3zM147 165h1v1h-1zM27 166h1v1h-1zM147 166h1v1h-1zM26 167h2v1h-2zM147 167h1v1h-1zM26 168h1v1h-1zM139 171h1v1h-1zM139 172h1v1h-1zM182 172h1v1h-1zM139 173h1v1h-1zM181 173h1v1h-1zM181 174h1v1h-1zM177 175h2v1h-2zM181 175h1v1h-1zM18 176h1v1h-1zM175 177h1v1h-1zM99 178h1v1h-1zM175 178h1v1h-1zM98 179h3v1h-3zM173 181h3v1h-3zM172 182h1v1h-1zM197 194h1v1h-1zM33 195h1v1h-1zM26 196h2v1h-2zM34 196h1v1h-1zM24 197h1v1h-1zM27 197h1v1h-1zM194 197h1v1h-1zM23 198h2v1h-2zM23 199h2v1h-2zM23 200h2v1h-2zM23 201h1v1h-1z"/>
<path fill="#41A0D5" d="M105 15h1v1h-1zM175 16h1v1h-1zM103 17h1v1h-1zM174 17h2v1h-2zM102 18h1v1h-1zM175 18h1v1h-1zM102 19h1v1h-1zM175 19h1v1h-1zM99 20h1v1h-1zM102 20h2v1h-2zM99 21h1v1h-1zM101 21h2v1h-2zM99 22h3v1h-3zM198 22h1v1h-1zM200 22h1v1h-1zM99 23h2v1h-2zM166 25h4v1h-4zM197 25h2v1h-2zM166 26h1v1h-1zM197 26h2v1h-2zM135 45h1v1h-1zM135 46h1v1h-1zM133 47h1v1h-1zM135 47h2v1h-2zM133 48h4v1h-4zM133 49h3v1h-3zM132 50h1v1h-1zM73 51h3v1h-3zM132 51h1v1h-1zM132 52h1v1h-1zM69 55h1v1h-1zM122 56h2v1h-2zM67 57h1v1h-1zM122 57h4v1h-4zM66 58h1v1h-1zM122 58h4v1h-4zM66 59h2v1h-2zM58 66h2v1h-2zM57 67h1v1h-1zM59 67h1v1h-1zM86 68h1v1h-1zM88 68h1v1h-1zM55 69h1v1h-1zM85 69h2v1h-2zM88 69h1v1h-1zM86 70h1v1h-1zM82 71h1v1h-1zM84 71h3v1h-3zM113 71h1v1h-1zM82 72h1v1h-1zM84 72h1v1h-1zM51 73h1v1h-1zM82 73h1v1h-1zM84 73h1v1h-1zM51 74h1v1h-1zM79 74h2v1h-2zM82 74h2v1h-2zM51 75h1v1h-1zM80 75h1v1h-1zM74 79h1v1h-1zM74 80h2v1h-2zM110 80h1v1h-1zM110 81h1v1h-1zM71 82h4v1h-4zM108 82h3v1h-3zM74 83h1v1h-1zM108 83h3v1h-3zM71 84h3v1h-3zM69 85h1v1h-1zM71 85h1v1h-1zM68 86h4v1h-4zM68 88h2v1h-2zM102 88h2v1h-2zM100 89h4v1h-4zM100 90h1v1h-1zM182 98h1v1h-1zM20 99h4v1h-4zM182 99h1v1h-1zM186 99h1v1h-1zM22 100h2v1h-2zM89 100h2v1h-2zM178 100h1v1h-1zM182 100h1v1h-1zM21 101h2v1h-2zM89 101h1v1h-1zM178 101h1v1h-1zM18 102h4v1h-4zM88 102h2v1h-2zM17 103h1v1h-1zM20 103h1v1h-1zM88 103h2v1h-2zM15 105h1v1h-1zM82 108h2v1h-2zM82 109h2v1h-2zM80 110h4v1h-4zM71 113h1v1h-1zM56 122h3v1h-3zM56 123h3v1h-3zM57 124h2v1h-2zM57 125h2v1h-2zM148 127h2v1h-2zM148 128h2v1h-2zM148 129h2v1h-2zM145 130h1v1h-1zM149 130h1v1h-1zM50 132h3v1h-3zM143 132h1v1h-1zM47 133h3v1h-3zM48 134h2v1h-2zM45 135h5v1h-5zM140 135h1v1h-1zM47 136h2v1h-2zM135 140h1v1h-1zM172 140h2v1h-2zM132 143h1v1h-1zM130 145h1v1h-1zM166 145h1v1h-1zM164 146h5v1h-5zM160 147h1v1h-1zM164 147h1v1h-1zM127 148h3v1h-3zM159 148h2v1h-2zM127 149h4v1h-4zM159 149h2v1h-2zM161 150h1v1h-1zM155 152h2v1h-2zM159 152h1v1h-1zM152 155h1v1h-1zM152 156h1v1h-1zM148 159h2v1h-2zM152 159h1v1h-1zM147 160h3v1h-3zM150 161h1v1h-1zM146 164h2v1h-2zM146 165h1v1h-1zM25 166h2v1h-2zM145 166h2v1h-2zM25 167h1v1h-1zM146 167h1v1h-1zM25 168h1v1h-1zM146 168h1v1h-1zM25 169h1v1h-1zM185 170h1v1h-1zM188 170h2v1h-2zM185 171h1v1h-1zM140 172h1v1h-1zM184 172h2v1h-2zM140 173h1v1h-1zM17 174h1v1h-1zM16 175h4v1h-4zM100 178h2v1h-2zM98 182h3v1h-3zM172 184h1v1h-1zM170 185h3v1h-3zM99 186h1v1h-1zM170 188h1v1h-1zM170 189h1v1h-1zM25 197h2v1h-2zM22 198h1v1h-1zM25 198h2v1h-2zM22 200h1v1h-1z"/>
<path fill="#4D90CC" d="M174 16h1v1h-1zM102 17h1v1h-1zM173 17h1v1h-1zM101 18h1v1h-1zM172 18h3v1h-3zM100 19h2v1h-2zM171 19h4v1h-4zM100 20h2v1h-2zM170 20h5v1h-5zM100 21h1v1h-1zM169 21h5v1h-5zM168 22h5v1h-5zM167 23h5v1h-5zM166 24h5v1h-5zM199 25h1v1h-1zM44 40h1v1h-1zM40 44h1v1h-1zM134 46h1v1h-1zM136 46h1v1h-1zM134 47h1v1h-1zM132 48h1v1h-1zM131 49h2v1h-2zM130 50h2v1h-2zM129 51h3v1h-3zM72 52h4v1h-4zM128 52h4v1h-4zM71 53h5v1h-5zM127 53h5v1h-5zM70 54h5v1h-5zM126 54h5v1h-5zM70 55h4v1h-4zM126 55h4v1h-4zM68 56h5v1h-5zM126 56h3v1h-3zM68 57h4v1h-4zM126 57h2v1h-2zM67 58h4v1h-4zM126 58h1v1h-1zM66 60h2v1h-2zM60 66h1v1h-1zM58 67h1v1h-1zM60 67h1v1h-1zM56 68h3v1h-3zM85 68h1v1h-1zM56 69h3v1h-3zM84 69h1v1h-1zM54 70h5v1h-5zM83 70h3v1h-3zM53 71h5v1h-5zM83 71h1v1h-1zM52 72h5v1h-5zM81 72h1v1h-1zM83 72h1v1h-1zM52 73h4v1h-4zM81 73h1v1h-1zM83 73h1v1h-1zM52 74h3v1h-3zM81 74h1v1h-1zM52 75h2v1h-2zM79 75h1v1h-1zM81 75h1v1h-1zM75 79h1v1h-1zM72 81h4v1h-4zM107 82h1v1h-1zM70 83h4v1h-4zM106 83h2v1h-2zM69 84h2v1h-2zM105 84h5v1h-5zM68 85h1v1h-1zM70 85h1v1h-1zM104 85h5v1h-5zM103 86h5v1h-5zM103 87h4v1h-4zM19 100h3v1h-3zM18 101h3v1h-3zM17 102h1v1h-1zM86 103h2v1h-2zM85 104h3v1h-3zM84 105h4v1h-4zM83 106h5v1h-5zM82 107h5v1h-5zM84 108h2v1h-2zM84 109h1v1h-1zM122 115h1v1h-1zM115 122h1v1h-1zM54 126h5v1h-5zM53 127h5v1h-5zM52 128h5v1h-5zM51 129h5v1h-5zM146 129h2v1h-2zM50 130h5v1h-5zM146 130h3v1h-3zM49 131h5v1h-5zM146 131h3v1h-3zM48 132h2v1h-2zM144 132h4v1h-4zM142 133h5v1h-5zM46 134h2v1h-2zM141 134h5v1h-5zM141 135h4v1h-4zM46 136h1v1h-1zM140 136h4v1h-4zM140 137h3v1h-3zM136 140h2v1h-2zM170 140h2v1h-2zM134 141h4v1h-4zM169 141h5v1h-5zM133 142h5v1h-5zM168 142h5v1h-5zM133 143h4v1h-4zM167 143h5v1h-5zM132 144h4v1h-4zM166 144h5v1h-5zM132 145h3v1h-3zM165 145h1v1h-1zM167 145h3v1h-3zM129 146h5v1h-5zM129 147h4v1h-4zM163 147h1v1h-1zM130 148h2v1h-2zM163 148h1v1h-1zM147 163h2v1h-2zM145 165h1v1h-1zM24 166h1v1h-1zM144 166h1v1h-1zM23 167h2v1h-2zM143 167h3v1h-3zM22 168h3v1h-3zM142 168h4v1h-4zM21 169h4v1h-4zM141 169h5v1h-5zM20 170h5v1h-5zM140 170h5v1h-5zM19 171h5v1h-5zM140 171h4v1h-4zM18 172h5v1h-5zM141 172h2v1h-2zM181 172h1v1h-1zM17 173h5v1h-5zM141 173h1v1h-1zM16 174h1v1h-1zM18 174h3v1h-3zM180 174h1v1h-1zM174 180h1v1h-1zM172 181h1v1h-1zM25 199h1v1h-1z"/>
</g>
</g>
<g shape-rendering="crispEdges">
<rect x="1862.1" y="1654.02" width="12.3" height="102.58" fill="#FF0800"/>
<rect x="1862.1" y="1551.74" width="12.3" height="102.58" fill="#FF2200"/>
<rect x="1862.1" y="1449.46" width="12.3" height="102.58" fill="#FF3C00"/>
<rect x="1862.1" y="1347.17" width="12.3" height="102.58" fill="#FF5600"/>
<rect x="1862.1" y="1244.89" width="12.3" height="102.58" fill="#FF7100"/>
<rect x="1862.1" y="1142.61" width="12.3" height="102.58" fill="#FF8B00"/>
<rect x="1862.1" y="1040.33" width="12.3" height="102.58" fill="#FFA500"/>
<rect x="1862.1" y="938.05" width="12.3" height="102.58" fill="#08F0FE"/>
<rect x="1862.1" y="835.77" width="12.3" height="102.58" fill="#13E0F6"/>
<rect x="1862.1" y="733.49" width="12.3" height="102.58" fill="#1FD0ED"/>
<rect x="1862.1" y="631.21" width="12.3" height="102.58" fill="#2AC0E5"/>
<rect x="1862.1" y="528.92" width="12.3" height="102.58" fill="#36B0DD"/>
<rect x="1862.1" y="426.64" width="12.3" height="102.58" fill="#41A0D5"/>
<rect x="1862.1" y="324.36" width="12.3" height="102.58" fill="#4D90CC"/>
<rect x="1862.1" y="222.08" width="12.3" height="102.58" fill="#5880C4"/>
<rect x="1862.1" y="119.80" width="12.3" height="102.58" fill="#FFFFFF"/>
</g>
<rect class="ln" x="1862.1" y="119.8" width="12.3" height="1636.5"/>
<rect class="ln" x="202.3" y="119.8" width="1636.9" height="1636.5"/>
<path class="ln" d="M591.9 1758.3v3.7M591.9 117.8v-3.7M200.3 1366.8h-3.7M1841.2 1366.8h3.7M985.3 1758.3v3.7M985.3 117.8v-3.7M200.3 973.5h-3.7M1841.2 973.5h3.7M1378.8 1758.3v3.7M1378.8 117.8v-3.7M200.3 580.1h-3.7M1841.2 580.1h3.7M1772.3 1758.3v3.7M1772.3 117.8v-3.7M200.3 186.7h-3.7M1841.2 186.7h3.7M1876.4 1696.7h2.6M1876.4 1286.5h2.6M1876.4 876.3h2.6M1876.4 466.1h2.6"/>
<text class="ax" transform="translate(591.9,1812.4) scale(1,1.065)" text-anchor="middle">50</text>
<text class="ax" transform="translate(191.7,1389.4) scale(1,1.065)" text-anchor="end">50</text>
<text class="ax" transform="translate(985.3,1812.4) scale(1,1.065)" text-anchor="middle">100</text>
<text class="ax" transform="translate(191.7,996.1) scale(1,1.065)" text-anchor="end">100</text>
<text class="ax" transform="translate(1378.8,1812.4) scale(1,1.065)" text-anchor="middle">150</text>
<text class="ax" transform="translate(191.7,602.7) scale(1,1.065)" text-anchor="end">150</text>
<text class="ax" transform="translate(1772.3,1812.4) scale(1,1.065)" text-anchor="middle">200</text>
<text class="ax" transform="translate(191.7,209.3) scale(1,1.065)" text-anchor="end">200</text>
<text class="key" transform="translate(1883,1714.9) scale(1,1.065)">0</text>
<text class="key" transform="translate(1883,1304.7) scale(1,1.065)">50</text>
<text class="key" transform="translate(1883,894.5) scale(1,1.065)">100</text>
<text class="key" transform="translate(1883,484.3) scale(1,1.065)">150</text>
<text class="ax" x="1020.8" y="1867.6" text-anchor="middle">Residue index</text>
<text class="ax" transform="translate(80,938.0) rotate(-90)" text-anchor="middle">Residue index</text>
</svg>
</body>
</html>
